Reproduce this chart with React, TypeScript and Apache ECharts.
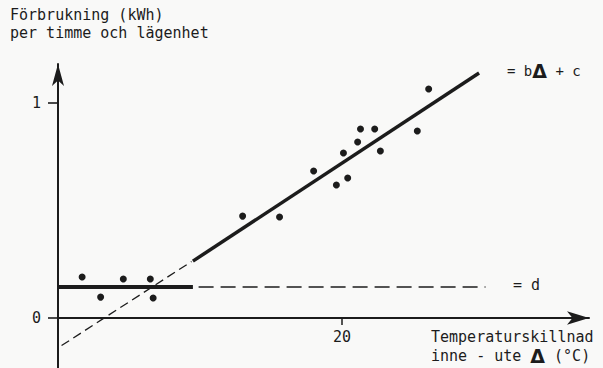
import React, { useEffect, useRef } from "react";
import * as echarts from "echarts";

// Measured points (Δ °C, kWh per hour and apartment)
const pointsDelta = [1.7, 3.0, 4.6, 6.5, 6.7, 13.0, 15.6, 18.0, 19.6, 20.4, 20.1, 21.1, 21.3, 22.3, 22.7, 25.3, 26.1];
const pointsValue = [0.19, 0.097, 0.181, 0.181, 0.093, 0.473, 0.469, 0.682, 0.617, 0.65, 0.766, 0.817, 0.877, 0.877, 0.775, 0.868, 1.063];

// Base level d
const dThick = [[0, 0.144], [9.5, 0.144]];
const dDashed = [[9.9, 0.144], [30.1, 0.144]];
// Line bΔ + c
const slopeDashed = [[0.25, -0.128], [9.4, 0.262]];
const slopeThick = [[9.5, 0.264], [29.65, 1.137]];
// Vertical axis continues below zero
const yAxisTail = [[0, 0], [0, -0.235]];

const xTicks = [20];
const yTicks = [0, 1];
const yLabels = [0, 1];

const INK = "#1c1c1c";
const FONT = "DejaVu Sans Mono";

export default function App() {
  const ref = useRef<HTMLDivElement>(null);
  useEffect(() => {
    if (!ref.current) return;
    const chart = echarts.init(ref.current, undefined, { renderer: "svg" });
    const txt = (text: string, x: number, y: number, size = 15, rich?: any) => ({
      type: "text",
      x,
      y,
      style: {
        text,
        fill: INK,
        font: `${size}px "${FONT}"`,
        verticalAlign: "middle",
        align: "left",
        rich,
      },
    });
    const tri = { t: { fontWeight: "bold", fontSize: 19, fontFamily: "DejaVu Sans", fill: INK } };
    chart.setOption({
      animation: false,
      backgroundColor: "#f9f9f8",
      grid: { left: 58, right: 14, top: 64, bottom: 50, containLabel: false, outerBoundsMode: "none" },
      xAxis: {
        type: "value",
        min: 0,
        max: 37.39,
        axisLine: {
          onZero: false,
          symbol: ["none", "arrow"],
          symbolSize: [10, 22],
          lineStyle: { color: INK, width: 2 },
        },
        axisTick: { show: true, customValues: xTicks, length: 7, lineStyle: { color: INK, width: 1.5 } },
        axisLabel: { customValues: xTicks, color: INK, fontSize: 15, fontFamily: FONT, margin: 11 },
        splitLine: { show: false },
      },
      yAxis: {
        type: "value",
        min: 0,
        max: 1.179,
        axisLine: {
          show: true,
          onZero: false,
          symbol: ["none", "arrow"],
          symbolSize: [9, 22],
          lineStyle: { color: INK, width: 2 },
        },
        axisTick: { show: true, customValues: yTicks, length: 10, lineStyle: { color: INK, width: 1.6 } },
        axisLabel: { customValues: yLabels, color: INK, fontSize: 15, fontFamily: FONT, margin: 17 },
        splitLine: { show: false },
      },
      series: [
        {
          type: "line",
          data: yAxisTail,
          symbol: "none",
          clip: false,
          lineStyle: { color: INK, width: 2 },
        },
        {
          type: "line",
          data: dThick,
          symbol: "none",
          lineStyle: { color: INK, width: 4 },
        },
        {
          type: "line",
          data: dDashed,
          symbol: "none",
          lineStyle: { color: INK, width: 1.5, type: [15, 7] },
        },
        {
          type: "line",
          data: slopeDashed,
          symbol: "none",
          clip: false,
          lineStyle: { color: INK, width: 1.3, type: [9, 5] },
        },
        {
          type: "line",
          data: slopeThick,
          symbol: "none",
          lineStyle: { color: INK, width: 3.5 },
        },
        {
          type: "scatter",
          data: pointsDelta.map((d, i) => [d, pointsValue[i]]),
          symbolSize: 7,
          itemStyle: { color: INK, opacity: 1 },
        },
      ],
      graphic: [
        txt("Förbrukning (kWh)", 10, 15),
        txt("per timme och lägenhet", 10, 33),
        txt("= b{t|Δ} + c", 507, 71, 14, tri),
        txt("= d", 513, 285),
        txt("Temperaturskillnad", 431, 337),
        txt("inne - ute {t|Δ} (°C)", 431, 356, 15, tri),
      ],
    });
    return () => chart.dispose();
  }, []);
  return (
    <div
      ref={ref}
      style={{ position: "fixed", left: 0, top: 0, width: 603, height: 368 }}
    />
  );
}
